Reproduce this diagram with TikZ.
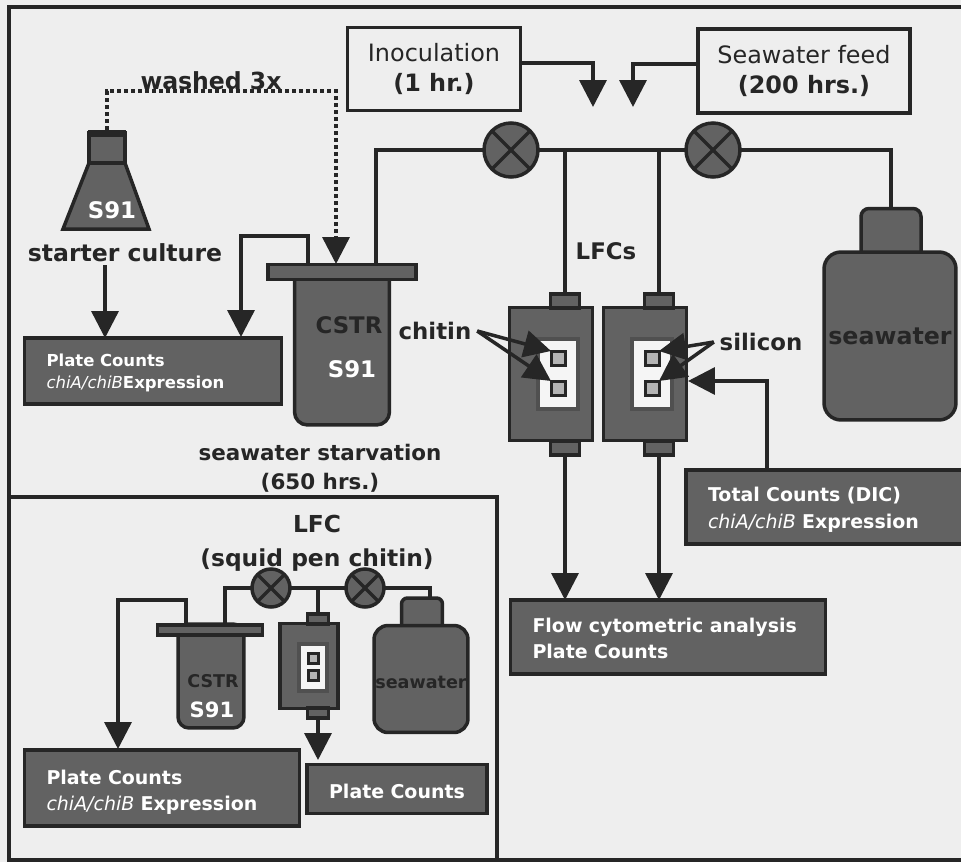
\documentclass[tikz,border=0pt]{standalone}
\usepackage{fontspec}
\usepackage{xcolor}
\usetikzlibrary{arrows.meta,positioning}
\setmainfont{DejaVu Sans}
\definecolor{pagegray}{RGB}{238,238,238}
\definecolor{inkdark}{RGB}{38,38,38}
\definecolor{vesselgray}{RGB}{98,98,98}
\definecolor{chipgray}{RGB}{180,180,180}
\definecolor{windowwhite}{RGB}{245,245,245}
\newcommand{\chiname}{\mdseries\itshape chiA/chiB}
\newcommand{\droptext}[1]{\rule{0pt}{#1}}

\begin{document}
\begin{tikzpicture}[
    x=0.02cm,y=-0.02cm,
    every node/.style={outer sep=0pt},
    node distance=0.24cm,
    panel/.style={draw=inkdark,line width=0.07cm},
    pipe/.style={draw=inkdark,line width=0.07cm},
    flow/.style={pipe,-{Triangle[length=0.54cm,width=0.54cm]}},
    wash/.style={flow,dash pattern=on 0.08cm off 0.06cm},
    vessel/.style={rectangle,draw=inkdark,fill=vesselgray,line width=0.07cm,inner sep=0pt},
    bottle/.style={vessel,rounded corners=0.34cm},
    valve/.style={circle,draw=inkdark,fill=vesselgray,line width=0.07cm,inner sep=0pt},
    lfcwindow/.style={rectangle,draw=vesselgray!70!inkdark,fill=windowwhite,line width=0.08cm,inner sep=0pt},
    chip/.style={rectangle,draw=inkdark,fill=chipgray,line width=0.06cm,inner sep=0pt},
    feedbox/.style={rectangle,draw=inkdark,fill=pagegray,line width=0.07cm,align=center,text=inkdark,
      font=\fontsize{13.6}{16.6}\selectfont},
    tagbox/.style={vessel,align=left,text=white,inner xsep=0.44cm,font=\bfseries},
    heading/.style={align=center,text=inkdark,font=\fontsize{13}{16.4}\selectfont\bfseries},
    onvessel/.style={inner sep=0pt,font=\fontsize{13}{16}\selectfont\bfseries}
  ]
    \useasboundingbox (0,0) rectangle (961,862);
    % page and frames
    \fill[pagegray] (0,0) rectangle (961,862);
    \draw[panel] (975,7) -- (9,7) -- (9,860) -- (975,860);
    \draw[panel] (9,497) -- (497,497) -- (497,860);

    % feeds and valves
    \node[feedbox,minimum width=3.46cm,minimum height=1.66cm] (inoc) at (434,69) {Inoculation\\\textbf{(1 hr.)}};
    \node[feedbox,minimum width=4.24cm,minimum height=1.68cm] (feed) at (804,71) {Seawater feed\\\textbf{(200 hrs.)}};
    \node[valve,minimum size=1.08cm] (valveA) at (511,150) {};
    \node[valve,minimum size=1.08cm] (valveB) at (713,150) {};

    % starter flask
    \draw[vessel] (89,163) -- (125,163) -- (149,229) -- (63,229) -- cycle;
    \node[vessel,minimum width=0.72cm,minimum height=0.6cm] (flaskNeck) at (107,148) {};
    \node[rectangle,fill=inkdark,minimum width=0.78cm,minimum height=0.14cm,inner sep=0pt] (flaskCap) at (107,133) {};
    \node[onvessel,text=white] at (112,210) {S91};
    \node[heading,font=\fontsize{13.4}{16.4}\selectfont\bfseries] (starter) at (125,253) {starter culture};

    % CSTR
    \node[vessel,rounded corners=0.26cm,minimum width=1.9cm,minimum height=3.2cm] (cstr) at (342,345) {};
    \node[vessel,minimum width=2.96cm,minimum height=0.3cm] (cstrLid) at (342,272) {};
    \node[onvessel,text=inkdark] (cstrName) at (349,325) {CSTR};
    \node[onvessel,text=white] (cstrStrain) at (352,369) {S91};
    \node[heading,font=\fontsize{12.2}{16.4}\selectfont\bfseries] (starve) at (320,468) {seawater starvation\\(650 hrs.)};

    % seawater bottle
    \node[vessel,rounded corners=0.16cm,minimum width=1.2cm,minimum height=1.06cm] (neck) at (891,235) {};
    \node[bottle,minimum width=2.64cm,minimum height=3.36cm] (sea) at (890,336) {};
    \node[onvessel,text=inkdark,font=\fontsize{13.5}{16}\selectfont\bfseries] (seaName) at (890,336) {seawater};

    % LFCs
    \node[vessel,minimum width=1.66cm,minimum height=2.66cm] (lfcA) at (551,374) {};
    \node[vessel,right=0.22cm of lfcA,minimum width=1.66cm,minimum height=2.66cm] (lfcB) {};
    \foreach \n/\cx in {A/565,B/659} {
      \node[vessel,minimum width=0.58cm,minimum height=0.28cm] (top\n) at (\cx,301) {};
      \node[vessel,minimum width=0.58cm,minimum height=0.28cm] (bot\n) at (\cx,448) {};
    }
    \node[lfcwindow,minimum width=0.8cm,minimum height=1.4cm] (winA) at (558,374) {};
    \node[lfcwindow,minimum width=0.8cm,minimum height=1.4cm] (winB) at (652,374) {};
    \foreach \n/\cx in {A/558,B/652} {
      \node[chip,minimum size=0.28cm] (chip\n1) at (\cx,358) {};
      \node[chip,minimum size=0.28cm] (chip\n2) at (\cx,388) {};
    }
    \node[heading] (lfcs) at (606,251) {LFCs};
    \node[heading] (chitin) at (435,331) {chitin};
    \node[heading] (silicon) at (761,342) {silicon};

    % result boxes
    \node[tagbox,minimum width=5.14cm,minimum height=1.32cm,text width=4.26cm,
      font=\fontsize{9.4}{12.6}\selectfont\bfseries] (plateA) at (153,371) {\droptext{9.4pt}Plate Counts\\{\chiname}Expression};
    \node[tagbox,minimum width=6.3cm,minimum height=1.48cm,text width=5.42cm,
      font=\fontsize{10.8}{15}\selectfont\bfseries] (flowBox) at (668,637) {\droptext{9.5pt}Flow cytometric analysis\\Plate Counts};
    \node[tagbox,minimum width=6.0cm,minimum height=1.48cm,text width=5.12cm,
      font=\fontsize{10.8}{15.4}\selectfont\bfseries] (totalBox) at (836,507) {\droptext{11.6pt}Total Counts (DIC)\\{\chiname} Expression};

    % connectors
    \draw[pipe] (valveA) -- (valveB);
    \coordinate (cstrIn) at (376,265);
    \draw[pipe] (valveA) -| (cstrIn);
    \draw[pipe] (valveB) -| (neck.north);
    \foreach \n in {A,B} {
      \draw[pipe] (top\n.north) -- (top\n.north |- valveA);
      \draw[flow] (bot\n.south) -- (bot\n.south |- flowBox.north);
    }
    \foreach \v in {valveA,valveB} {
      \draw[pipe] (\v.north west) -- (\v.south east);
      \draw[pipe] (\v.north east) -- (\v.south west);
    }
    \coordinate (inocOut) at (521,63);
    \coordinate (inocEnd) at (593,107);
    \draw[flow] (inocOut) -| (inocEnd);
    \coordinate (feedOut) at (698,64);
    \coordinate (feedEnd) at (633,107);
    \draw[flow] (feedOut) -| (feedEnd);
    \coordinate (washTop) at (336,91);
    \coordinate (washEnd) at (336,264);
    \draw[wash] (flaskCap.north) -- (flaskCap.north |- washTop) -| (washEnd);
    \node[heading,font=\fontsize{13.4}{16.4}\selectfont\bfseries] (washed) at (211,81) {washed 3x};
    \coordinate (starterOut) at (105,265);
    \draw[flow] (starterOut) -- (starterOut |- plateA.north);
    \coordinate (cstrOut) at (308,264);
    \coordinate (cstrOver) at (308,236);
    \coordinate (plateDrop) at (241,337);
    \draw[flow] (cstrOut) -- (cstrOver) -| (plateDrop);
    \coordinate (totalTap) at (767,468);
    \coordinate (lfcSide) at (688,381);
    \draw[flow] (totalTap) |- (lfcSide);
    \draw[flow] (chitin.east) -- (chipA1.north west);
    \draw[flow] (chitin.east) -- (chipA2.north west);
    \draw[flow] (silicon.west) -- (chipB1.north east);
    \draw[flow] (silicon.west) -- (chipB2.north east);

    % squid pen panel
    \node[heading,font=\fontsize{13.3}{19.2}\selectfont\bfseries] (lfcTitle) at (317,543) {LFC\\(squid pen chitin)};
    \node[valve,minimum size=0.76cm] (valveC) at (271,588) {};
    \node[valve,minimum size=0.76cm] (valveD) at (365,588) {};
    \node[vessel,rounded corners=0.22cm,minimum width=1.32cm,minimum height=2.08cm] (cstrS) at (211,676) {};
    \node[vessel,minimum width=2.1cm,minimum height=0.2cm] (lidS) at (210,630) {};
    \node[onvessel,text=inkdark,font=\fontsize{10}{12}\selectfont\bfseries] (cstrNameS) at (213,681) {CSTR};
    \node[onvessel,text=white,font=\fontsize{12}{14}\selectfont\bfseries] (cstrStrainS) at (212,710) {S91};
    \node[vessel,minimum width=1.16cm,minimum height=1.7cm] (lfcS) at (309,666) {};
    \node[vessel,minimum width=0.42cm,minimum height=0.2cm] (topS) at (318,619) {};
    \node[vessel,minimum width=0.42cm,minimum height=0.2cm] (botS) at (318,713) {};
    \node[lfcwindow,minimum width=0.56cm,minimum height=0.94cm] (winS) at (313,667) {};
    \node[chip,minimum size=0.2cm] (chipS1) at (313,658) {};
    \node[chip,minimum size=0.2cm] (chipS2) at (313,675) {};
    \node[vessel,rounded corners=0.12cm,minimum width=0.82cm,minimum height=0.64cm] (neckS) at (422,614) {};
    \node[vessel,rounded corners=0.28cm,minimum width=1.88cm,minimum height=2.14cm] (seaS) at (421,679) {};
    \node[onvessel,text=inkdark,font=\fontsize{10}{12}\selectfont\bfseries] (seaNameS) at (421,682) {seawater};
    \node[tagbox,minimum width=5.5cm,minimum height=1.52cm,text width=4.62cm,
      font=\fontsize{10.8}{14.8}\selectfont\bfseries] (plateS) at (162,788) {\droptext{12.8pt}Plate Counts\\{\chiname} Expression};
    \node[tagbox,minimum width=3.6cm,minimum height=0.98cm,align=center,text width=2.72cm,
      font=\fontsize{10.8}{13}\selectfont\bfseries] (plateR) at (397,789) {\droptext{10.4pt}Plate Counts};
    \draw[pipe] (valveC) -- (valveD);
    \coordinate (cstrInS) at (225,624);
    \draw[pipe] (valveC) -| (cstrInS);
    \coordinate (neckInS) at (430,598);
    \draw[pipe] (valveD) -| (neckInS);
    \draw[pipe] (topS.north) -- (topS.north |- valveC);
    \foreach \v in {valveC,valveD} {
      \draw[pipe] (\v.north west) -- (\v.south east);
      \draw[pipe] (\v.north east) -- (\v.south west);
    }
    \coordinate (cstrOutS) at (186,624);
    \coordinate (cstrOverS) at (186,600);
    \coordinate (plateDropS) at (118,749);
    \draw[flow] (cstrOutS) -- (cstrOverS) -| (plateDropS);
    \coordinate (plateTipR) at (318,760);
    \draw[flow] (botS.south) -- (plateTipR);
  \end{tikzpicture}
\end{document}
